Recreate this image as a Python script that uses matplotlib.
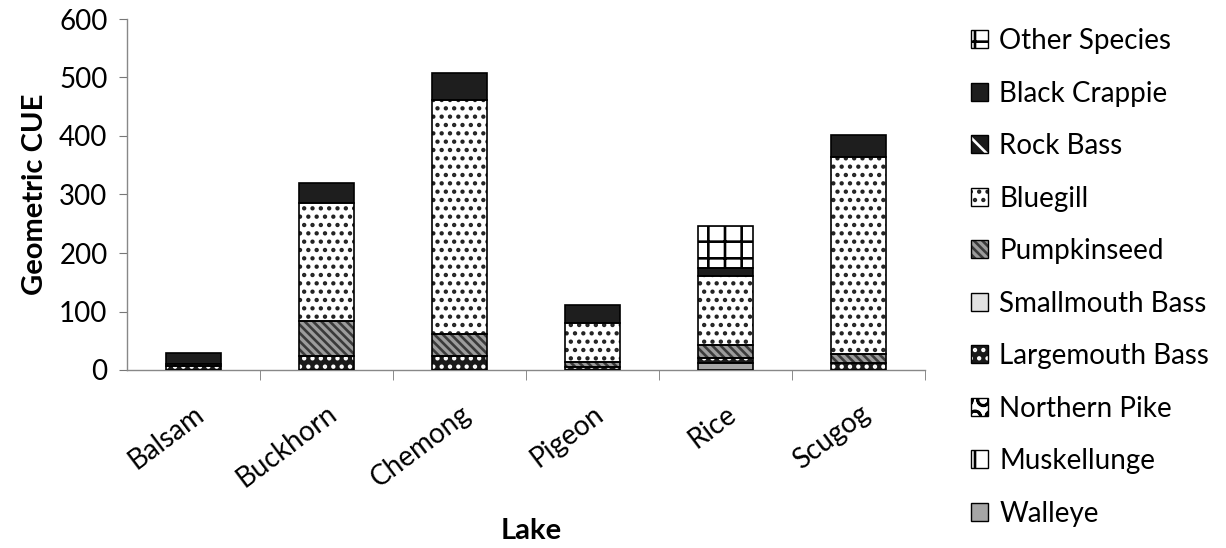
import matplotlib
matplotlib.use('Agg')
import matplotlib.pyplot as plt
from matplotlib.patches import Patch
from matplotlib.ticker import MultipleLocator
import matplotlib.transforms as mtransforms
import numpy as np

plt.rcParams['font.family'] = ['Lato', 'DejaVu Sans']
plt.rcParams['hatch.linewidth'] = 1.9

lakes = ["Balsam", "Buckhorn", "Chemong", "Pigeon", "Rice", "Scugog"]
walleye = [0, 0, 0, 0, 12, 0]
muskellunge = [0, 0, 0, 0, 0, 0]
northern_pike = [0, 0, 0, 0, 0, 0]
largemouth_bass = [6, 24, 24, 5, 9, 12]
smallmouth_bass = [0, 0, 0, 0, 0, 0]
pumpkinseed = [0, 60, 38, 9, 21, 15]
bluegill = [5, 201, 400, 66, 118, 337]
rock_bass = [0, 0, 0, 0, 0, 0]
black_crappie = [18, 35, 46, 31, 15, 38]
other_species = [0, 0, 0, 0, 72, 0]

series = [
    ("Walleye", walleye, '#a6a6a6', '#a6a6a6', None),
    ("Muskellunge", muskellunge, 'white', 'black', '|'),
    ("Northern Pike", northern_pike, 'white', 'black', 'O'),
    ("Largemouth Bass", largemouth_bass, '#1a1a1a', 'white', '..'),
    ("Smallmouth Bass", smallmouth_bass, '#e2e2e2', '#e2e2e2', None),
    ("Pumpkinseed", pumpkinseed, '#9c9c9c', '#3a3a3a', '\\\\\\\\'),
    ("Bluegill", bluegill, 'white', '#222222', '..'),
    ("Rock Bass", rock_bass, '#1a1a1a', 'white', '\\'),
    ("Black Crappie", black_crappie, '#1e1e1e', '#1e1e1e', None),
    ("Other Species", other_species, 'white', 'black', '+'),
]

fig = plt.figure(figsize=(12.26, 5.48), dpi=100)
ax = fig.add_axes([127/1226, 1 - 370/548, (925 - 127)/1226, (370 - 19)/548])

x = np.arange(len(lakes))
width = 0.41
bottom = np.zeros(len(lakes))
handles = []
for name, vals, face, hcol, hatch in series:
    vals = np.array(vals, dtype=float)
    m = vals > 0
    if m.any():
        ax.bar(x[m], vals[m], width, bottom=bottom[m], color=face,
               edgecolor=hcol, hatch=hatch, linewidth=0, zorder=2)
        ax.bar(x[m], vals[m], width, bottom=bottom[m], fill=False,
               edgecolor='black', linewidth=1.2, zorder=3)
    bottom = bottom + vals
    h1 = Patch(facecolor=face, edgecolor=hcol, hatch=hatch, linewidth=0)
    h2 = Patch(fill=False, edgecolor='black', linewidth=1.0)
    handles.append(((h1, h2), name))

ax.set_xlim(-0.5, len(lakes) - 0.5)
ax.set_ylim(0, 600)
ax.yaxis.set_major_locator(MultipleLocator(100))
ax.set_xticks(x)
ax.set_xticklabels(lakes, rotation=37, ha='right', rotation_mode='anchor', fontsize=20)
offset = mtransforms.ScaledTranslation(-25/100, 0, fig.dpi_scale_trans)
for lbl in ax.get_xticklabels():
    lbl.set_transform(lbl.get_transform() + offset)
ax.set_xticks(np.arange(len(lakes)) + 0.5, minor=True)
ax.tick_params(axis='x', which='major', length=0, pad=22)
ax.tick_params(axis='x', which='minor', length=7, color='#777777', direction='out')
ax.tick_params(axis='y', which='major', length=6, color='#777777', labelsize=20, pad=8)

for s in ['top', 'right']:
    ax.spines[s].set_visible(False)
for s in ['left', 'bottom']:
    ax.spines[s].set_color('#888888')
    ax.spines[s].set_linewidth(1.0)

ax.set_ylabel('Geometric CUE', fontsize=21, fontweight='bold', labelpad=8)
ax.set_xlabel('Lake', fontsize=21, fontweight='bold')
ax.xaxis.set_label_coords(0.507, -(518 - 370) / 351)

hs = [h for h, n in handles][::-1]
ns = [n for h, n in handles][::-1]
fig.legend(hs, ns, loc='upper left', bbox_to_anchor=(971/1226, 1 - 28/548),
           frameon=False, fontsize=20, labelspacing=0.955, handlelength=0.62,
           handleheight=0.62, handletextpad=0.4, borderpad=0, borderaxespad=0)

fig.savefig('out.png', dpi=100)
